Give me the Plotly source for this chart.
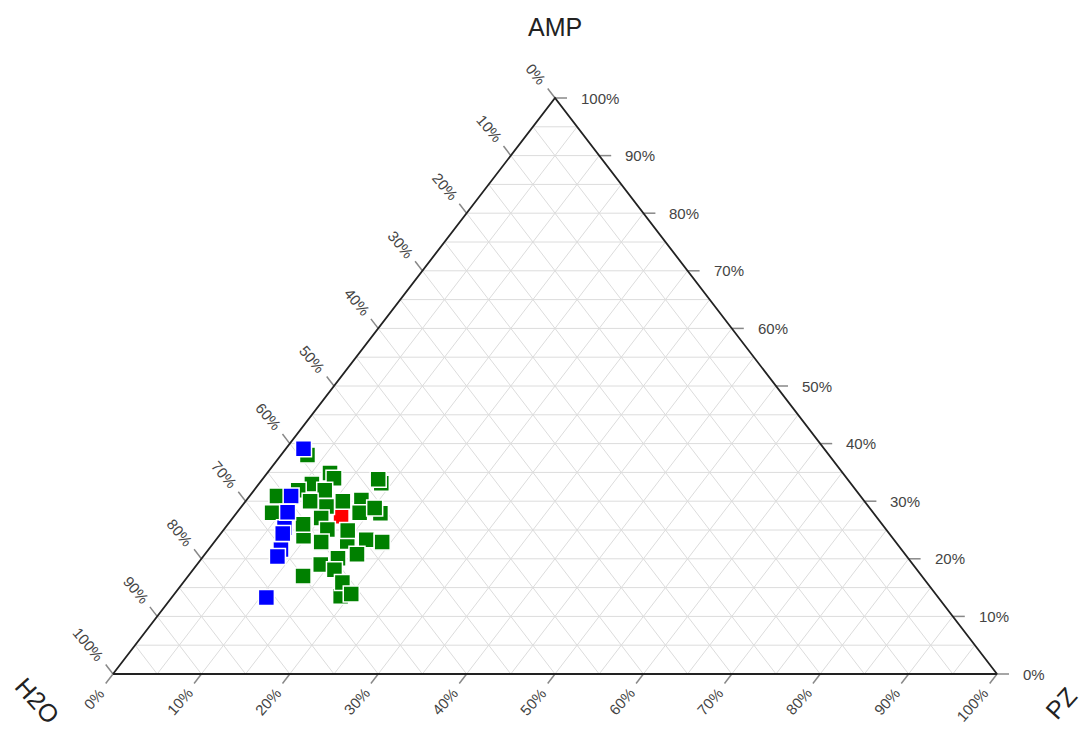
import numpy as np
import plotly.graph_objects as go

# ---- compositions (percent): AMP / H2O / PZ ----
red_amp = [27.4]
red_h2o = [60.5]
red_pz = [12.1]

green_amp = [38.0, 34.9, 33.1, 33.0, 31.9, 30.9, 28.0, 29.1, 23.9, 26.0, 23.0, 27.9,
             30.2, 23.3, 20.1, 13.5, 34.0, 33.8, 31.9, 30.0, 30.0, 28.0, 28.8, 27.1,
             25.1, 24.9, 22.9, 22.9, 20.8, 19.0, 18.1, 17.0, 15.9, 13.9]
green_h2o = [59.0, 58.0, 53.1, 61.0, 63.1, 66.0, 68.0, 61.3, 66.5, 65.5, 62.0, 55.8,
             56.8, 59.7, 64.5, 67.5, 58.0, 53.1, 60.1, 62.7, 59.0, 58.1, 56.0, 62.9,
             63.2, 61.0, 65.0, 58.1, 62.0, 67.0, 65.9, 70.0, 66.1, 66.1]
green_pz = [3.0, 7.1, 13.8, 6.0, 5.0, 3.1, 4.0, 9.6, 9.6, 8.5, 15.0, 16.3,
            13.0, 17.0, 15.4, 19.0, 8.0, 13.1, 8.0, 7.3, 11.0, 13.9, 15.2, 10.0,
            11.7, 14.1, 12.1, 19.0, 17.2, 14.0, 16.0, 13.0, 18.0, 20.0]

blue_amp = [25.4, 21.6, 39.1, 30.9, 28.1, 24.4, 20.4, 13.3]
blue_h2o = [67.9, 70.2, 58.9, 64.4, 66.2, 68.6, 71.2, 76.0]
blue_pz = [6.7, 8.2, 2.0, 4.7, 5.7, 7.0, 8.4, 10.7]

tick_values = list(range(0, 101, 10))
tick_labels = [f"{v}%" for v in tick_values]
grid_values = list(range(5, 100, 5))

# ---- layout geometry ----
W, H = 1084, 729
X0_PX, X1_PX = 113, 997      # base of triangle (pixels)
YB_PX, YT_PX = 674, 98       # base / apex (pixels)
SX = X1_PX - X0_PX           # pixels per x unit
SY = YB_PX - YT_PX           # pixels per y unit
x_range = [-X0_PX / SX, (W - X0_PX) / SX]
y_range = [-(H - YB_PX) / SY, YB_PX / SY]


def tern(amp, pz):
    """AMP at the apex, H2O bottom-left, PZ bottom-right."""
    amp = np.asarray(amp, dtype=float) / 100.0
    pz = np.asarray(pz, dtype=float) / 100.0
    return pz + amp / 2.0, amp


def off(x, y, dx_px, dy_px):
    """shift a data point by a screen offset in pixels"""
    return x + dx_px / SX, y - dy_px / SY


GRID = "#dcdcdc"
EDGE = "#222222"
TICK = "#888888"
LABEL = "#444444"
FONT = "Liberation Sans, Arial, sans-serif"
TICK_FS = 15

fig = go.Figure()

# grid lines every 5 %
gx, gy = [], []
for v in grid_values:
    k = v / 100.0
    gx += [k / 2, 1 - k / 2, None]; gy += [k, k, None]               # constant AMP
    gx += [k, k + (1 - k) / 2, None]; gy += [0, 1 - k, None]         # constant PZ
    gx += [1 - k, (1 - k) / 2, None]; gy += [0, 1 - k, None]         # constant H2O
fig.add_trace(go.Scatter(x=gx, y=gy, mode="lines", line=dict(color=GRID, width=1),
                         hoverinfo="skip", cliponaxis=False))

# tick marks
TL = 12.0
diag = np.hypot(0.5 * SX, SY)
tx, ty = [], []
for v in tick_values:
    k = v / 100.0
    # AMP ticks on right edge, horizontal
    px_, py_ = 1 - k / 2, k
    tx += [px_, px_ + TL / SX, None]; ty += [py_, py_, None]
    # H2O ticks on left edge, pointing up-left
    px_, py_ = (1 - k) / 2, 1 - k
    tx += [px_, px_ - 0.5 * TL / diag, None]; ty += [py_, py_ + TL / diag, None]
    # PZ ticks on bottom edge, pointing down-left
    px_, py_ = k, 0.0
    tx += [px_, px_ - 0.5 * TL / diag, None]; ty += [py_, py_ - TL / diag, None]
fig.add_trace(go.Scatter(x=tx, y=ty, mode="lines", line=dict(color=TICK, width=1.5),
                         hoverinfo="skip", cliponaxis=False))

# triangle outline
fig.add_trace(go.Scatter(x=[0, 1, 0.5, 0], y=[0, 0, 1, 0], mode="lines",
                         line=dict(color=EDGE, width=1.8), hoverinfo="skip",
                         cliponaxis=False))

# data series
marker_common = dict(symbol="square", size=16, line=dict(color="white", width=1.5))
for amp, h2o, pz, col in [(red_amp, red_h2o, red_pz, "#ff0000"),
                          (green_amp, green_h2o, green_pz, "#008000"),
                          (blue_amp, blue_h2o, blue_pz, "#0000ff")]:
    x, y = tern(amp, pz)
    fig.add_trace(go.Scatter(
        x=x, y=y, mode="markers", marker=dict(color=col, **marker_common),
        customdata=np.stack([amp, h2o, pz], axis=1), cliponaxis=False,
        hovertemplate="AMP %{customdata[0]}%<br>H2O %{customdata[1]}%<br>PZ %{customdata[2]}%<extra></extra>"))

# tick labels
ann = []
DIG = 0.556 * TICK_FS
PCT = 0.889 * TICK_FS
for v, lab in zip(tick_values, tick_labels):
    k = v / 100.0
    L = DIG * (len(lab) - 1) + PCT
    # AMP, right side
    x, y = off(1 - k / 2, k, 24, 0)
    ann.append(dict(x=x, y=y, text=lab, xanchor="left", yanchor="middle",
                    showarrow=False, font=dict(size=TICK_FS, color=LABEL, family=FONT)))
    # H2O, left side
    x, y = off((1 - k) / 2, 1 - k, -11 - 0.354 * L, -16 - 0.354 * L)
    ann.append(dict(x=x, y=y, text=lab, textangle=50, xanchor="center", yanchor="middle",
                    showarrow=False, font=dict(size=TICK_FS, color=LABEL, family=FONT)))
    # PZ, bottom
    x, y = off(k, 0.0, -11 - 0.354 * L, 17 + 0.354 * L)
    ann.append(dict(x=x, y=y, text=lab, textangle=-48, xanchor="center", yanchor="middle",
                    showarrow=False, font=dict(size=TICK_FS, color=LABEL, family=FONT)))

# axis titles (corner titles kept just inside the page)
x, y = off(0.5, 1.0, 0, -71)
ann.append(dict(x=x, y=y, text="AMP", showarrow=False, xanchor="center", yanchor="middle",
                font=dict(size=25, color="#222222", family=FONT)))
x, y = off(0.0, 0.0, -76, 26)
ann.append(dict(x=x, y=y, text="H2O", showarrow=False, textangle=48, xanchor="center",
                yanchor="middle", font=dict(size=25, color="#222222", family=FONT)))
x, y = off(1.0, 0.0, 64, 29)
ann.append(dict(x=x, y=y, text="PZ", showarrow=False, textangle=-48, xanchor="center",
                yanchor="middle", font=dict(size=25, color="#222222", family=FONT)))

fig.update_layout(
    width=W, height=H, margin=dict(l=0, r=0, t=0, b=0),
    paper_bgcolor="white", plot_bgcolor="white", showlegend=False,
    xaxis=dict(range=x_range, visible=False, fixedrange=True),
    yaxis=dict(range=y_range, visible=False, fixedrange=True),
    annotations=ann,
)

fig.write_html("out.html")
